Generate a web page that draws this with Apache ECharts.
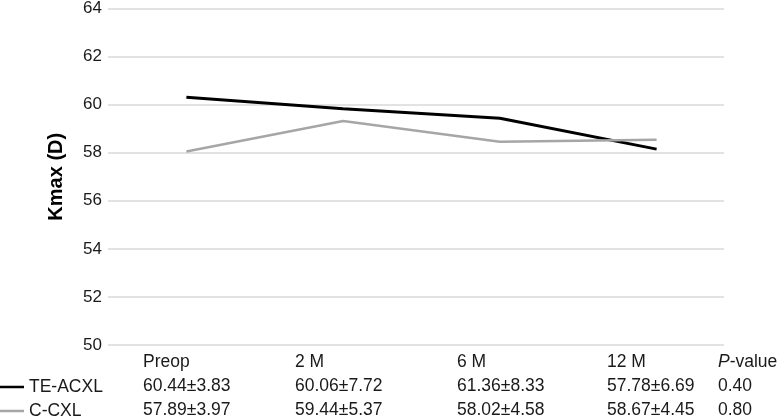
<!DOCTYPE html>
<html>
<head>
<meta charset="utf-8">
<script src="https://cdn.jsdelivr.net/npm/echarts@6/dist/echarts.min.js"></script>
<style>
    html, body { margin: 0; padding: 0; background: #fff; }
    #chart { width: 783px; height: 418px; }
</style>
</head>
<body>
<div id="chart"></div>
<script>
// time points
var categories = ["Preop", "2 M", "6 M", "12 M"];
var seriesNames = ["TE-ACXL", "C-CXL"];
// mean Kmax
var teAcxl = [60.31, 59.83, 59.43, 58.15];
var cCxl = [58.05, 59.32, 58.46, 58.54];
// table rows under the plot
var teAcxlTable = ["60.44±3.83", "60.06±7.72", "61.36±8.33", "57.78±6.69"];
var cCxlTable = ["57.89±3.97", "59.44±5.37", "58.02±4.58", "58.67±4.45"];
var pValues = ["0.40", "0.80"];
var yTicks = [50, 52, 54, 56, 58, 60, 62, 64];

var font = "Liberation Sans, Arial, sans-serif";
var colX = [143, 295, 457, 607];
var pX = 718;
var rowY = [363, 387, 411];

function txt(x, y, s) {
    return {
        type: "text",
        left: x,
        top: y - 10,
        style: { text: s, fill: "#1a1a1a", font: "17.5px " + font }
    };
}

var tableItems = [];
categories.forEach(function(c, i) {
    tableItems.push(txt(colX[i], rowY[0], c));
    tableItems.push(txt(colX[i], rowY[1], teAcxlTable[i]));
    tableItems.push(txt(colX[i], rowY[2], cCxlTable[i]));
});
tableItems.push({
    type: "text",
    left: pX,
    top: rowY[0] - 10,
    style: {
        text: "{i|P}-value",
        fill: "#1a1a1a",
        font: "17.5px " + font,
        rich: { i: { fontStyle: "italic", fontSize: 17.5, fontFamily: font, fill: "#1a1a1a" } }
    }
});
tableItems.push(txt(pX, rowY[1], pValues[0]));
tableItems.push(txt(pX, rowY[2], pValues[1]));

var chart = echarts.init(document.getElementById("chart"));
chart.setOption({
    animation: false,
    textStyle: { fontFamily: font },
    grid: { left: 108, right: 59, top: 7, bottom: 73 },
    legend: {
        orient: "vertical",
        left: 0,
        top: 378,
        height: 80,
        padding: 0,
        itemGap: 6,
        itemWidth: 24,
        itemHeight: 2.5,
        icon: "rect",
        data: seriesNames,
        textStyle: { fontSize: 17.5, color: "#1a1a1a", fontFamily: font, lineHeight: 18 }
    },
    xAxis: {
        type: "value",
        min: -0.5,
        max: 3.43,
        show: false
    },
    yAxis: {
        type: "value",
        min: yTicks[0],
        max: yTicks[yTicks.length - 1],
        interval: 2,
        name: "Kmax (D)",
        nameLocation: "middle",
        nameGap: 42,
        nameTextStyle: { fontSize: 20, fontWeight: "bold", color: "#000", fontFamily: font },
        axisLine: { show: false },
        axisTick: { show: false },
        axisLabel: { fontSize: 17, color: "#1a1a1a", margin: 6, fontFamily: font },
        splitLine: { lineStyle: { color: "#d9d9d9", width: 1.5 } }
    },
    series: [
        {
            name: seriesNames[0],
            type: "line",
            symbol: "none",
            itemStyle: { color: "#000" },
            lineStyle: { color: "#000", width: 3 },
            data: teAcxl.map(function(v, i) { return [i, v]; }),
            z: 3
        },
        {
            name: seriesNames[1],
            type: "line",
            symbol: "none",
            itemStyle: { color: "#a6a6a6" },
            lineStyle: { color: "#a6a6a6", width: 2.5 },
            data: cCxl.map(function(v, i) { return [i, v]; }),
            z: 4
        }
    ],
    graphic: tableItems
});
</script>
</body>
</html>
